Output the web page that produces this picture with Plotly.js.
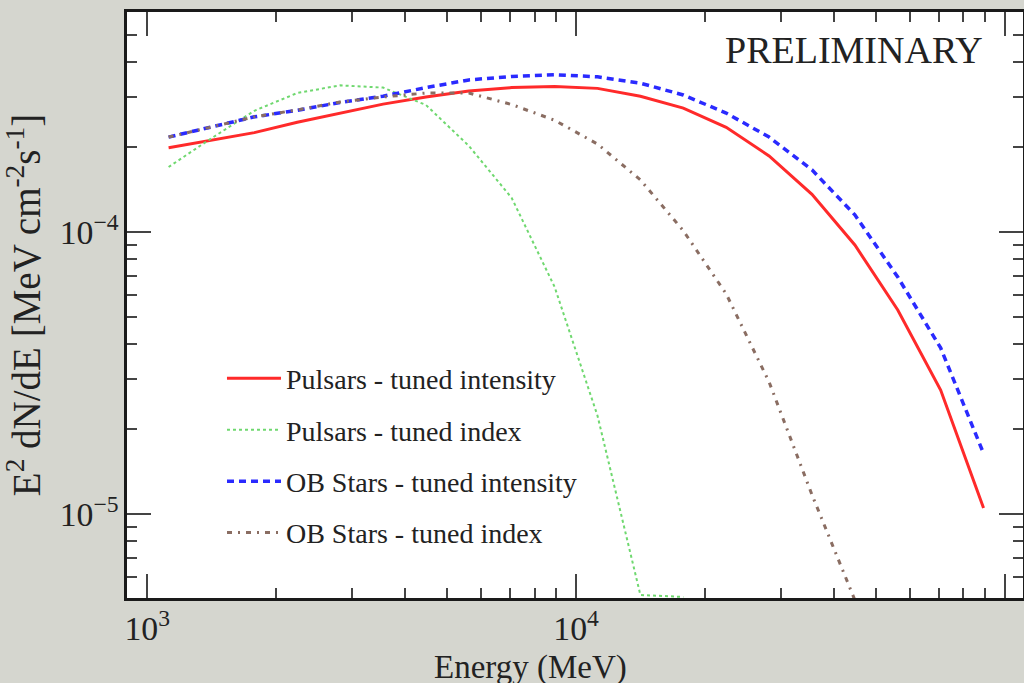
<!DOCTYPE html>
<html>
<head>
<meta charset="utf-8">
<script src="https://cdn.plot.ly/plotly-3.0.1.min.js"></script>
<style>
html,body{margin:0;padding:0;overflow:hidden;background:#d5d6cf;}
#chart{width:1024px;height:683px;}
</style>
</head>
<body>
<div id="chart"></div>
<script>
// Energy grid (MeV)
const energy = [1122, 1413, 1778, 2239, 2818, 3548, 4467, 5623, 7079, 8913,
                11220, 14125, 17783, 22387, 28184, 35481, 44668, 56234, 70795, 89125];

// E^2 dN/dE [MeV cm^-2 s^-1]
const pulsarsIntensity = [1.99e-4, 2.12e-4, 2.25e-4, 2.45e-4, 2.64e-4, 2.84e-4, 3.01e-4, 3.16e-4, 3.25e-4, 3.28e-4,
                          3.23e-4, 3.03e-4, 2.75e-4, 2.35e-4, 1.86e-4, 1.36e-4, 8.99e-5, 5.29e-5, 2.75e-5, 1.05e-5];
const pulsarsIndex = [1.70e-4, 2.15e-4, 2.69e-4, 3.11e-4, 3.31e-4, 3.25e-4, 2.82e-4, 2.02e-4, 1.32e-4, 6.38e-5,
                      2.23e-5, 5.16e-6, 5.08e-6];
const obIntensity = [2.17e-4, 2.35e-4, 2.56e-4, 2.70e-4, 2.88e-4, 3.03e-4, 3.25e-4, 3.46e-4, 3.56e-4, 3.61e-4,
                     3.55e-4, 3.37e-4, 3.06e-4, 2.64e-4, 2.17e-4, 1.66e-4, 1.15e-4, 6.92e-5, 3.88e-5, 1.64e-5];
const obIndex = [2.17e-4, 2.35e-4, 2.56e-4, 2.71e-4, 2.89e-4, 3.01e-4, 3.11e-4, 3.11e-4, 2.83e-4, 2.49e-4,
                 2.05e-4, 1.53e-4, 1.01e-4, 6.03e-5, 2.94e-5, 1.17e-5, 4.95e-6];

const seriesNames = ["Pulsars - tuned intensity", "Pulsars - tuned index",
                     "OB Stars - tuned intensity", "OB Stars - tuned index"];

const xTitle = "Energy (MeV)";
const yTitle = "E<sup>2</sup> dN/dE [MeV cm<sup>-2</sup>s<sup>-1</sup>]";
const stamp = "PRELIMINARY";

const serif = "Liberation Serif";

const traces = [
  {x: energy.slice(0, pulsarsIntensity.length), y: pulsarsIntensity, name: seriesNames[0], legendgroup: "a",
   mode: "lines", line: {color: "#ff2a2a", width: 3, dash: "solid"}},
  {x: energy.slice(0, pulsarsIndex.length), y: pulsarsIndex, name: seriesNames[1], legendgroup: "b",
   mode: "lines", line: {color: "#6fd86f", width: 2, dash: "dot"}},
  {x: energy.slice(0, obIntensity.length), y: obIntensity, name: seriesNames[2], legendgroup: "c",
   mode: "lines", line: {color: "#2a2aff", width: 3.5, dash: "7px,5px"}},
  {x: energy.slice(0, obIndex.length), y: obIndex, name: seriesNames[3], legendgroup: "d",
   mode: "lines", line: {color: "#8a6d62", width: 3, dash: "5px,6px,2px,6px"}}
];

const axisCommon = {
  type: "log",
  showgrid: false,
  zeroline: false,
  showline: true,
  linecolor: "#1a1a1a",
  linewidth: 3,
  mirror: "allticks",
  ticks: "inside",
  ticklen: 24,
  tickwidth: 2,
  tickcolor: "#444",
  dtick: 1,
  exponentformat: "power",
  tickfont: {family: serif, size: 27, color: "#222"},
  minor: {ticks: "inside", ticklen: 10, tickwidth: 2, tickcolor: "#444", showgrid: false}
};

const layout = {
  width: 1024,
  height: 683,
  margin: {l: 127, r: 1, t: 12, b: 85},
  paper_bgcolor: "#d5d6cf",
  plot_bgcolor: "#ffffff",
  showlegend: true,
  legend: {
    x: 0.106, y: 0.417, xanchor: "left", yanchor: "top",
    bgcolor: "rgba(0,0,0,0)",
    font: {family: serif, size: 28, color: "#222"},
    itemwidth: 54,
    tracegroupgap: 12,
    traceorder: "grouped"
  },
  xaxis: Object.assign({}, axisCommon, {
    range: [2.953, 5.042],
    title: {text: ""}
  }),
  yaxis: Object.assign({}, axisCommon, {
    range: [-5.298, -3.220],
    title: {text: yTitle, font: {family: serif, size: 39, color: "#222"}, standoff: 8}
  }),
  annotations: [
    {text: stamp, xref: "paper", yref: "paper", x: 0.958, y: 0.974,
     xanchor: "right", yanchor: "top", showarrow: false,
     font: {family: serif, size: 38, color: "#222"}},
    {text: xTitle, xref: "paper", yref: "paper", x: 0.45, y: 0, yshift: -49,
     xanchor: "center", yanchor: "top", showarrow: false,
     font: {family: serif, size: 33, color: "#222"}}
  ]
};

Plotly.newPlot("chart", traces, layout, {displayModeBar: false, staticPlot: true});
</script>
</body>
</html>
